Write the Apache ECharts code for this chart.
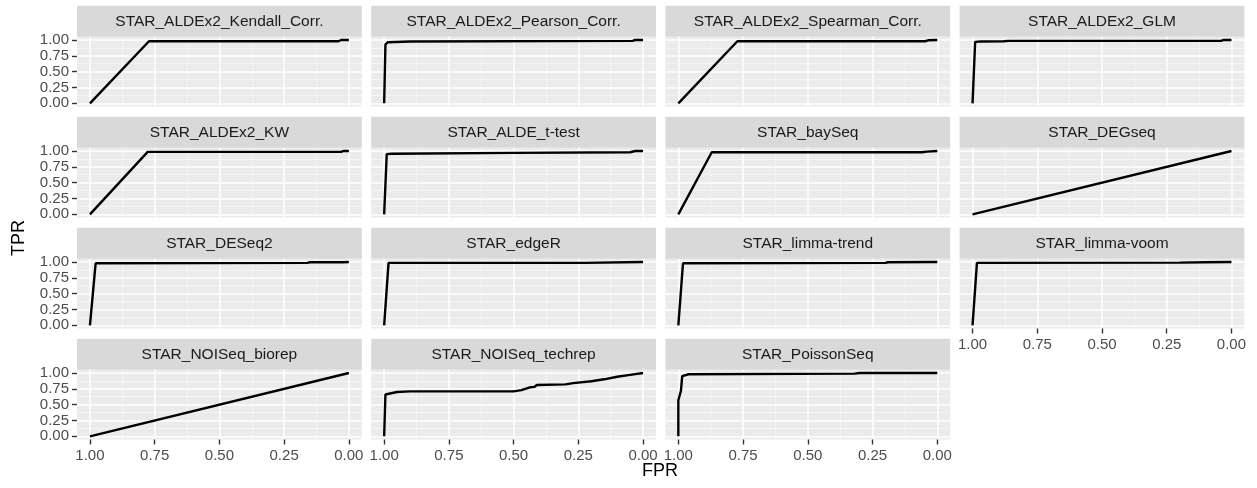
<!DOCTYPE html>
<html>
<head>
<meta charset="utf-8">
<script src="https://cdn.jsdelivr.net/npm/echarts@6/dist/echarts.min.js"></script>
<style>
  html, body { margin: 0; padding: 0; background: #fff; }
  #main { width: 1257px; height: 488px; }
</style>
</head>
<body>
<div id="main"></div>
<script>
// panel names (facet strips)
const methods = [
  'STAR_ALDEx2_Kendall_Corr.', 'STAR_ALDEx2_Pearson_Corr.', 'STAR_ALDEx2_Spearman_Corr.', 'STAR_ALDEx2_GLM',
  'STAR_ALDEx2_KW', 'STAR_ALDE_t-test', 'STAR_baySeq', 'STAR_DEGseq',
  'STAR_DESeq2', 'STAR_edgeR', 'STAR_limma-trend', 'STAR_limma-voom',
  'STAR_NOISeq_biorep', 'STAR_NOISeq_techrep', 'STAR_PoissonSeq'
];

// curves as [FPR, TPR] pairs
const kendall = [[1, 0], [0.772, 0.98], [0.04, 0.98], [0.03, 1.0], [0, 1.0]];
const pearson = [[1, 0], [0.995, 0.93], [0.985, 0.965], [0.9, 0.975], [0.04, 0.985], [0.03, 1.0], [0, 1.0]];
const spearman = [[1, 0], [0.772, 0.98], [0.047, 0.98], [0.035, 0.995], [0, 1.0]];
const glm = [[1, 0], [0.99, 0.97], [0.97, 0.975], [0.88, 0.98], [0.86, 0.985], [0.04, 0.985], [0.03, 1.0], [0, 1.0]];
const kw = [[1, 0], [0.777, 0.985], [0.03, 0.985], [0.02, 1.0], [0, 1.0]];
const tTest = [[1, 0], [0.99, 0.95], [0.97, 0.955], [0.5, 0.97], [0.05, 0.98], [0.03, 1.0], [0, 1.0]];
const baySeq = [[1, 0], [0.871, 0.98], [0.06, 0.98], [0.04, 0.99], [0, 1.0]];
const degSeq = [[1, 0], [0, 1.0]];
const deseq2 = [[1, 0], [0.978, 0.98], [0.16, 0.985], [0.15, 0.995], [0.02, 0.995], [0, 1.0]];
const edgeR = [[1, 0], [0.983, 0.985], [0.225, 0.985], [0.22, 0.995], [0, 1.0]];
const limmaTrend = [[1, 0], [0.982, 0.98], [0.2, 0.985], [0.19, 0.995], [0, 1.0]];
const limmaVoom = [[1, 0], [0.983, 0.985], [0.2, 0.99], [0.1, 0.995], [0, 1.0]];
const noiBiorep = [[1, 0], [0, 1.0]];
const noiTechrep = [[1, 0], [0.995, 0.66], [0.99, 0.69], [0.95, 0.70], [0.9, 0.71], [0.5, 0.71], [0.47, 0.73],
  [0.44, 0.77], [0.42, 0.78], [0.41, 0.81], [0.3, 0.82], [0.27, 0.84], [0.2, 0.87], [0.15, 0.9],
  [0.1, 0.94], [0.05, 0.97], [0, 1.0]];
const poissonSeq = [[1, 0], [1, 0.57], [0.99, 0.72], [0.985, 0.95], [0.96, 0.98], [0.32, 0.99], [0.3, 1.0], [0, 1.0]];

const curves = [kendall, pearson, spearman, glm, kw, tTest, baySeq, degSeq,
  deseq2, edgeR, limmaTrend, limmaVoom, noiBiorep, noiTechrep, poissonSeq];

// axis breaks
const tickValues = [0, 0.25, 0.5, 0.75, 1];
const minorValues = [0.125, 0.375, 0.625, 0.875];

const myChart = echarts.init(document.getElementById('main'));

const font = 'Liberation Sans, Arial, sans-serif';
const ncol = 4;
const panelW = 284.8, panelH = 69.7, stripH = 31;
const left0 = 77, top0 = 36.8, stepX = 294.2, stepY = 111;

let grids = [], xAxes = [], yAxes = [], series = [], graphics = [];

methods.forEach((name, i) => {
  let r = Math.floor(i / ncol), c = i % ncol;
  let left = left0 + c * stepX, top = top0 + r * stepY;
  // bottom panel of each column gets x labels
  let showX = (i + ncol >= methods.length);
  let showY = c === 0;

  grids.push({
    left: left, top: top, width: panelW, height: panelH,
    show: true, backgroundColor: '#EBEBEB', borderWidth: 0,
    containLabel: false, outerBoundsMode: 'none'
  });

  // major x
  xAxes.push({
    gridIndex: i, type: 'value', inverse: true, min: -0.05, max: 1.05, position: 'bottom',
    axisLine: { show: false, onZero: false },
    axisTick: { show: showX, length: 5, customValues: tickValues, lineStyle: { color: '#333333', width: 1.4 } },
    axisLabel: {
      show: showX, customValues: tickValues, margin: 9, fontSize: 15, color: '#4D4D4D', fontFamily: font,
      formatter: v => v.toFixed(2)
    },
    splitLine: { show: true, lineStyle: { color: '#FFFFFF', width: 1.5 } }
  });
  // minor x
  xAxes.push({
    gridIndex: i, type: 'value', inverse: true, min: -0.05, max: 1.05, position: 'top',
    axisLine: { show: false, onZero: false },
    axisTick: { show: false, customValues: minorValues },
    axisLabel: { show: false, customValues: minorValues },
    splitLine: { show: true, lineStyle: { color: '#F8F8F8', width: 0.7 } }
  });
  // major y
  yAxes.push({
    gridIndex: i, type: 'value', min: -0.05, max: 1.05, position: 'left',
    axisLine: { show: false, onZero: false },
    axisTick: { show: showY, length: 5, customValues: tickValues, lineStyle: { color: '#333333', width: 1.4 } },
    axisLabel: {
      show: showY, customValues: tickValues, margin: 8, fontSize: 15, color: '#4D4D4D', fontFamily: font,
      formatter: v => v.toFixed(2)
    },
    splitLine: { show: true, lineStyle: { color: '#FFFFFF', width: 1.5 } }
  });
  // minor y
  yAxes.push({
    gridIndex: i, type: 'value', min: -0.05, max: 1.05, position: 'right',
    axisLine: { show: false, onZero: false },
    axisTick: { show: false, customValues: minorValues },
    axisLabel: { show: false, customValues: minorValues },
    splitLine: { show: true, lineStyle: { color: '#F8F8F8', width: 0.7 } }
  });

  series.push({
    type: 'line', name: name, xAxisIndex: 2 * i, yAxisIndex: 2 * i,
    data: curves[i], showSymbol: false, symbol: 'none', silent: true,
    lineStyle: { color: '#000000', width: 2.4 }
  });

  // strip
  graphics.push({
    type: 'rect', left: left, top: top - stripH,
    shape: { width: panelW, height: stripH },
    style: { fill: '#D9D9D9' }, silent: true
  });
  graphics.push({
    type: 'text', x: left + panelW / 2, y: top - stripH / 2 + 0.5,
    style: {
      text: name, fill: '#1A1A1A', font: '15.5px ' + font,
      textAlign: 'center', textVerticalAlign: 'middle'
    }, silent: true
  });
});

// axis titles
graphics.push({
  type: 'text', x: 660, y: 471,
  style: { text: 'FPR', fill: '#000000', font: '18px ' + font, textAlign: 'center', textVerticalAlign: 'middle' }
});
graphics.push({
  type: 'text', x: 19, y: 238, rotation: Math.PI / 2,
  style: { text: 'TPR', fill: '#000000', font: '18px ' + font, textAlign: 'center', textVerticalAlign: 'middle' }
});

let option = {
  backgroundColor: '#FFFFFF',
  animation: false,
  grid: grids,
  xAxis: xAxes,
  yAxis: yAxes,
  series: series,
  graphic: graphics
};
option && myChart.setOption(option);

window.addEventListener('resize', () => {
  if (myChart) myChart.resize();
});
</script>
</body>
</html>
